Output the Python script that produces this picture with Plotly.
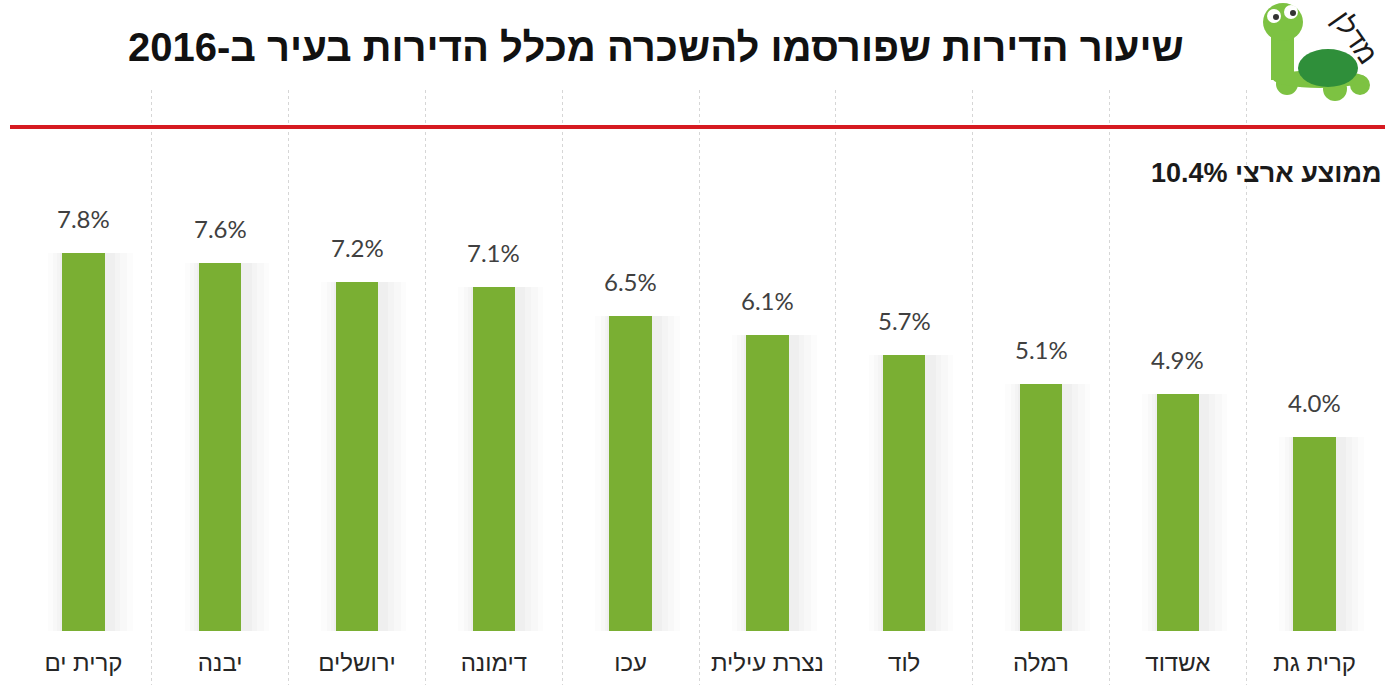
import plotly.graph_objects as go

# ---- data ----
cities = ["קרית ים", "יבנה", "ירושלים", "דימונה", "עכו",
          "נצרת עילית", "לוד", "רמלה", "אשדוד", "קרית גת"]
rates = [7.8, 7.6, 7.2, 7.1, 6.5, 6.1, 5.7, 5.1, 4.9, 4.0]
national_avg = 10.4
title_text = "שיעור הדירות שפורסמו להשכרה מכלל הדירות בעיר ב-2016"
avg_label = f"ממוצע ארצי {national_avg}%"
logo_text = "מדלן"

W, H = 1400, 697
L, R, T, B = 15, 17, 90, 12
PW, PH = W - L - R, H - T - B


def px(x):
    return (x - L) / PW


def py(y):
    return (H - B - y) / PH


BAR_GREEN = "#7aaf33"

fig = go.Figure()

# soft shadow behind the bars (layered for a blurred look)
for w, off, a in [(0.62, -0.26, 0.012), (0.54, -0.22, 0.014),
                  (0.46, -0.19, 0.016), (0.40, -0.17, 0.018)]:
    fig.add_trace(go.Bar(x=cities, y=rates, width=w, offset=off,
                         marker=dict(color=f"rgba(0,0,0,{a})", line=dict(width=0)),
                         hoverinfo="skip", showlegend=False))
# main bars
fig.add_trace(go.Bar(x=cities, y=rates, width=0.31, offset=-0.155,
                     marker=dict(color=BAR_GREEN, line=dict(width=0)),
                     showlegend=False))

# value labels above bars
for c, v in zip(cities, rates):
    fig.add_annotation(x=c, y=v, xref="x", yref="y", text=f"{v:.1f}%",
                       showarrow=False, yanchor="bottom", yshift=18,
                       font=dict(family="Lato", size=24, color="#404040"))

# national average line
fig.add_shape(type="line", xref="paper", yref="y",
              x0=px(10), x1=px(1385), y0=national_avg, y1=national_avg,
              line=dict(color="#d61a21", width=4))
fig.add_annotation(xref="paper", yref="y", x=px(1384), y=national_avg,
                   xanchor="right", yanchor="middle", yshift=-46,
                   text=f"<b>{avg_label}</b>", showarrow=False,
                   font=dict(family="Liberation Sans", size=27, color="#1a1a1a"))

# title
fig.add_annotation(xref="paper", yref="paper", x=px(656), y=py(47),
                   xanchor="center", yanchor="middle", showarrow=False,
                   text=f"<b>{title_text}</b>",
                   font=dict(family="Liberation Sans", size=40, color="#111111"))

# ---- simple turtle logo (decorative) ----
def circ(cx, cy, r, color, ry=None):
    ry = r if ry is None else ry
    fig.add_shape(type="circle", xref="paper", yref="paper",
                  x0=px(cx - r), x1=px(cx + r), y0=py(cy + ry), y1=py(cy - ry),
                  fillcolor=color, line=dict(width=0), layer="above")

LG = "#7dc242"
DG = "#2f8f3a"
circ(1287, 84, 11, LG)
circ(1335, 89, 12, LG)
circ(1360, 85, 10, LG)
circ(1320, 79, 47, LG, ry=9)
fig.add_shape(type="rect", xref="paper", yref="paper",
              x0=px(1271), x1=px(1294), y0=py(80), y1=py(28),
              fillcolor=LG, line=dict(width=0), layer="above")
circ(1328, 68, 30, DG, ry=19)
circ(1283, 22, 20, LG, ry=19)
circ(1274, 16, 7, "white")
circ(1291, 12, 7, "white")
circ(1276, 17, 3, "#333333")
circ(1293, 13, 3, "#333333")
fig.add_annotation(xref="paper", yref="paper", x=px(1355), y=py(37),
                   xanchor="center", yanchor="middle",
                   text=logo_text, showarrow=False, textangle=55,
                   font=dict(family="Liberation Sans", size=28, color="#1a1a1a"))

fig.update_layout(
    width=W, height=H,
    margin=dict(l=L, r=R, t=T, b=B),
    paper_bgcolor="white", plot_bgcolor="white",
    barmode="overlay", bargap=0,
    showlegend=False,
    xaxis=dict(type="category", range=[-0.5, 9.5], tickson="boundaries",
               showgrid=True, griddash="dot", gridcolor="#d6d6d6", gridwidth=1,
               ticks="", showline=False, zeroline=False,
               ticklabelposition="inside", ticklabelstandoff=6,
               tickfont=dict(family="Liberation Sans", size=24, color="#262626")),
    yaxis=dict(range=[-1.114, 11.164], visible=False, showgrid=False,
               zeroline=False),
)

fig.write_html("out.html")
